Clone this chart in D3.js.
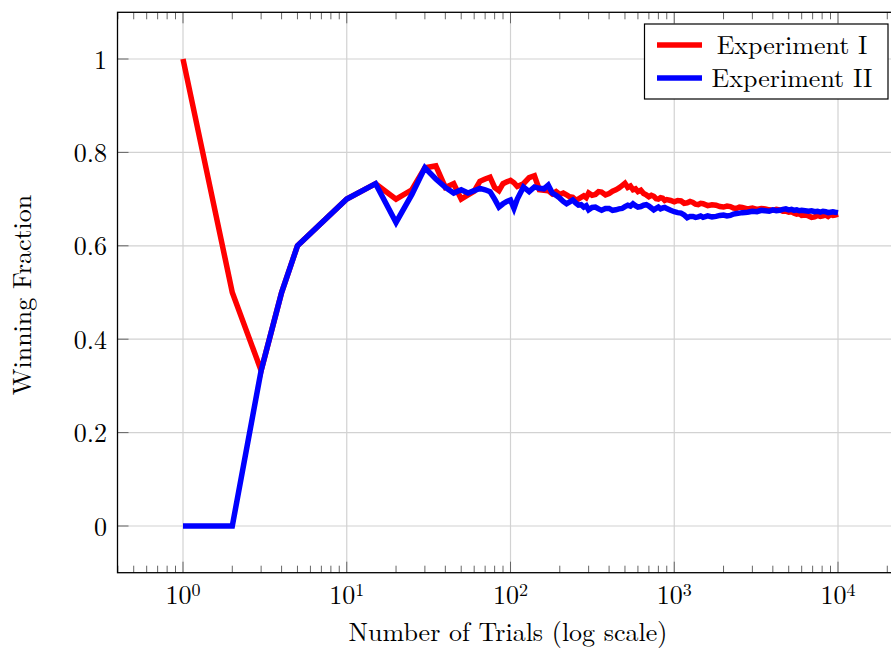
<!DOCTYPE html>
<html>
<head>
<meta charset="utf-8">
<script src="https://cdn.jsdelivr.net/npm/d3@7"></script>
<style>
  body { margin: 0; background: #fff; }
</style>
</head>
<body>
<script>
// Data
let trials = [
  1, 2, 3, 4, 5, 10, 15, 20, 25, 30,
  35, 40, 45, 50, 55, 60, 65, 70, 75, 80,
  85, 90, 95, 100, 105, 110, 120, 130, 140, 150,
  160, 170, 180, 190,
  200, 210, 220, 230, 240, 250, 260, 270, 280, 290,
  300, 315, 330, 345, 360, 380, 400, 420, 440, 460,
  480, 500, 520, 540, 560, 580, 600, 625, 650, 675,
  700, 725, 750, 775, 800, 825, 850, 875, 900, 950,
  1000, 1050, 1100, 1150, 1200, 1250, 1300, 1350, 1400, 1450,
  1500, 1600, 1700, 1800, 1900, 2000, 2100, 2200, 2300, 2400,
  2500, 2600, 2800, 3000, 3200, 3400, 3600, 3800, 4000, 4200,
  4400, 4600, 4800, 5000, 5200, 5400, 5600, 5800, 6000, 6300,
  6600, 6900, 7200, 7500, 7800, 8100, 8400, 8700, 9000, 9300,
  9600, 10000];

let experimentI = [
  1.0, 0.5, 0.333, 0.5, 0.6, 0.7, 0.733, 0.7, 0.72, 0.767,
  0.771, 0.725, 0.733, 0.70, 0.709, 0.717, 0.738, 0.743, 0.747, 0.725,
  0.718, 0.733, 0.737, 0.74, 0.735, 0.727, 0.733, 0.746, 0.75, 0.72,
  0.719, 0.718, 0.711, 0.716,
  0.71, 0.713, 0.709, 0.705, 0.704, 0.698, 0.70, 0.704, 0.707, 0.703,
  0.713, 0.708, 0.71, 0.716, 0.715, 0.709, 0.712, 0.717, 0.72, 0.724,
  0.729, 0.734, 0.725, 0.728, 0.72, 0.722, 0.716, 0.719, 0.712, 0.709,
  0.705, 0.708, 0.706, 0.701, 0.70, 0.703, 0.702, 0.697, 0.699, 0.697,
  0.694, 0.697, 0.696, 0.691, 0.692, 0.695, 0.693, 0.689, 0.688, 0.691,
  0.69, 0.686, 0.688, 0.687, 0.684, 0.683, 0.685, 0.684, 0.681, 0.68,
  0.683, 0.682, 0.679, 0.681, 0.678, 0.68, 0.679, 0.677, 0.676, 0.678,
  0.677, 0.674, 0.674, 0.672, 0.673, 0.67, 0.668, 0.669, 0.665, 0.666,
  0.664, 0.661, 0.662, 0.665, 0.663, 0.664, 0.666, 0.663, 0.667, 0.665,
  0.666, 0.668];

let experimentII = [
  0, 0, 0.333, 0.5, 0.6, 0.7, 0.733, 0.65, 0.71, 0.767,
  0.743, 0.725, 0.713, 0.72, 0.713, 0.718, 0.723, 0.72, 0.716, 0.70,
  0.683, 0.69, 0.695, 0.698, 0.68, 0.70, 0.726, 0.716, 0.726, 0.723,
  0.722, 0.73, 0.713, 0.708,
  0.702, 0.695, 0.69, 0.694, 0.698, 0.692, 0.687, 0.688, 0.683, 0.686,
  0.677, 0.682, 0.683, 0.679, 0.676, 0.68, 0.68, 0.676, 0.677, 0.679,
  0.68, 0.684, 0.687, 0.685, 0.69, 0.686, 0.683, 0.684, 0.687, 0.688,
  0.685, 0.681, 0.677, 0.68, 0.683, 0.679, 0.681, 0.682, 0.68, 0.676,
  0.673, 0.671, 0.67, 0.666, 0.66, 0.663, 0.663, 0.661, 0.662, 0.664,
  0.661, 0.664, 0.662, 0.663, 0.665, 0.666, 0.664, 0.665, 0.668, 0.669,
  0.67, 0.671, 0.672, 0.674, 0.673, 0.676, 0.675, 0.674, 0.677, 0.675,
  0.676, 0.678, 0.679, 0.677, 0.678, 0.676, 0.677, 0.675, 0.676, 0.675,
  0.674, 0.675, 0.673, 0.674, 0.672, 0.674, 0.673, 0.671, 0.672, 0.673,
  0.672, 0.671];

let seriesNames = ['Experiment I', 'Experiment II'];
let seriesColors = ['#ff0000', '#0000ff'];
let xTickExps = [0, 1, 2, 3, 4];
let yTicks = [0, 0.2, 0.4, 0.6, 0.8, 1];

let width = 891;
let height = 648;
let fontSize = 26;
let fontFamily = 'Latin Modern Roman';

let svg = d3.select('body')
  .append('svg')
    .attr('width', width)
    .attr('height', height)
    .style('font-family', fontFamily);

let xScale = d3.scaleLog()
    .domain([1, 1e4])
    .range([183, 838]);

let yScale = d3.scaleLinear()
    .domain([0, 1])
    .range([526, 59]);

let plotLeft = xScale(Math.pow(10, -0.4));
let plotRight = xScale(Math.pow(10, 4.4));
let plotTop = yScale(1.1);
let plotBottom = yScale(-0.1);

// grid
let grid = svg.append('g');
xTickExps.forEach(function (e) {
  let x = xScale(Math.pow(10, e));
  grid.append('line')
      .attr('x1', x).attr('x2', x).attr('y1', plotTop).attr('y2', plotBottom)
      .attr('stroke', '#d2d2d2').attr('stroke-width', 1.2);
});
yTicks.forEach(function (v) {
  grid.append('line')
      .attr('x1', plotLeft).attr('x2', plotRight).attr('y1', yScale(v)).attr('y2', yScale(v))
      .attr('stroke', '#d2d2d2').attr('stroke-width', 1.2);
});

// ticks (inside the frame)
let ticks = svg.append('g').attr('stroke', '#666').attr('stroke-width', 1);
let minorTicks = [];
for (let e = -1; e <= 4; e++) {
  for (let m = 2; m <= 9; m++) {
    let v = m * Math.pow(10, e);
    if (xScale(v) > plotLeft && xScale(v) < plotRight) minorTicks.push(v);
  }
}
minorTicks.forEach(function (v) {
  let x = xScale(v);
  ticks.append('line').attr('x1', x).attr('x2', x).attr('y1', plotBottom).attr('y2', plotBottom - 7);
  ticks.append('line').attr('x1', x).attr('x2', x).attr('y1', plotTop).attr('y2', plotTop + 7);
});
xTickExps.forEach(function (e) {
  let x = xScale(Math.pow(10, e));
  ticks.append('line').attr('x1', x).attr('x2', x).attr('y1', plotBottom).attr('y2', plotBottom - 11);
  ticks.append('line').attr('x1', x).attr('x2', x).attr('y1', plotTop).attr('y2', plotTop + 11);
});
yTicks.forEach(function (v) {
  ticks.append('line').attr('x1', plotLeft).attr('x2', plotLeft + 11).attr('y1', yScale(v)).attr('y2', yScale(v));
  ticks.append('line').attr('x1', plotRight).attr('x2', plotRight - 11).attr('y1', yScale(v)).attr('y2', yScale(v));
});

// lines
svg.append('clipPath')
    .attr('id', 'plotClip')
  .append('rect')
    .attr('x', plotLeft).attr('y', plotTop)
    .attr('width', plotRight - plotLeft).attr('height', plotBottom - plotTop);

let line = d3.line()
    .x(function (d) { return xScale(d[0]); })
    .y(function (d) { return yScale(d[1]); });

[experimentI, experimentII].forEach(function (values, i) {
  if (values.length !== trials.length) console.error('length mismatch', i, values.length, trials.length);
  let pts = trials.map(function (t, j) { return [t, values[j]]; });
  svg.append('path')
      .attr('d', line(pts))
      .attr('clip-path', 'url(#plotClip)')
      .attr('fill', 'none')
      .attr('stroke', seriesColors[i])
      .attr('stroke-width', 5.5)
      .attr('stroke-linejoin', 'miter');
});

// frame
svg.append('rect')
    .attr('x', plotLeft).attr('y', plotTop)
    .attr('width', plotRight - plotLeft).attr('height', plotBottom - plotTop)
    .attr('fill', 'none')
    .attr('stroke', '#000')
    .attr('stroke-width', 1.3);

// tick labels
yTicks.forEach(function (v) {
  svg.append('text')
      .attr('x', 107)
      .attr('y', yScale(v) + 9.5)
      .attr('text-anchor', 'end')
      .attr('font-size', fontSize)
      .style('font-family', fontFamily)
      .text(v === 0 ? '0' : v === 1 ? '1' : d3.format('.1f')(v));
});
xTickExps.forEach(function (e) {
  let t = svg.append('text')
      .attr('x', xScale(Math.pow(10, e)))
      .attr('y', 604)
      .attr('text-anchor', 'middle')
      .attr('font-size', fontSize)
      .style('font-family', fontFamily);
  t.append('tspan').text('10');
  t.append('tspan')
      .attr('dy', -8)
      .attr('font-size', 18)
      .text(String(e));
});

// axis titles
svg.append('text')
    .attr('x', 508)
    .attr('y', 641)
    .attr('text-anchor', 'middle')
    .attr('font-size', fontSize)
    .style('font-family', fontFamily)
    .text('Number of Trials (log scale)');

svg.append('text')
    .attr('transform', 'translate(31,295) rotate(-90)')
    .attr('text-anchor', 'middle')
    .attr('font-size', fontSize)
    .style('font-family', fontFamily)
    .text('Winning Fraction');

// legend
let legend = svg.append('g');
legend.append('rect')
    .attr('x', 644.5).attr('y', 24)
    .attr('width', 243.5).attr('height', 75)
    .attr('fill', '#fff')
    .attr('stroke', '#000')
    .attr('stroke-width', 1.2);

let legendRows = [45, 78];
seriesNames.forEach(function (name, i) {
  legend.append('line')
      .attr('x1', 657).attr('x2', 702)
      .attr('y1', legendRows[i]).attr('y2', legendRows[i])
      .attr('stroke', seriesColors[i])
      .attr('stroke-width', 5.5);
  legend.append('text')
      .attr('x', 792)
      .attr('y', legendRows[i] + 8.5)
      .attr('text-anchor', 'middle')
      .attr('font-size', fontSize)
      .style('font-family', fontFamily)
      .text(name);
});
</script>
</body>
</html>
